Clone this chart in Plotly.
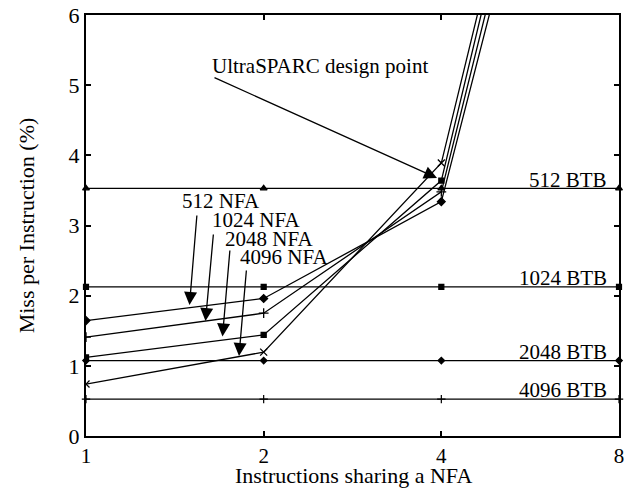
import math
import plotly.graph_objects as go

# ---- data ----
x_vals = [1, 2, 4, 8]
nfa_names = ["512 NFA", "1024 NFA", "2048 NFA", "4096 NFA"]
nfa_512 = [1.645, 1.96, 3.34, 13.2]
nfa_1024 = [1.41, 1.75, 3.48, 13.7]
nfa_2048 = [1.12, 1.44, 3.64, 14.2]
nfa_4096 = [0.74, 1.195, 3.89, 14.3]
btb_names = ["512 BTB", "1024 BTB", "2048 BTB", "4096 BTB"]
btb_512 = [3.53, 3.53, 3.53, 3.53]
btb_1024 = [2.125, 2.125, 2.125, 2.125]
btb_2048 = [1.075, 1.075, 1.075, 1.075]
btb_4096 = [0.525, 0.525, 0.525, 0.525]
x_ticks = [1, 2, 4, 8]
y_ticks = [0, 1, 2, 3, 4, 5, 6]

FONT = "Liberation Serif"
W, H = 624, 492
# plot area in page pixels: x 86..619, y 15..436
L, R, T, B = 86, 5, 15, 56
PW, PH = W - L - R, H - T - B


def px(xp):
    return (xp - L) / PW


def py(yp):
    return (H - B - yp) / PH


fig = go.Figure()

nfa_series = [nfa_512, nfa_1024, nfa_2048, nfa_4096]
nfa_symbols = ["diamond", "cross-thin", "square", "x-thin"]
nfa_sizes = [6, 7, 5, 7]
for name, vals, sym, sz in zip(nfa_names, nfa_series, nfa_symbols, nfa_sizes):
    fig.add_trace(go.Scatter(
        x=x_vals, y=vals, mode="lines+markers", name=name,
        line=dict(color="black", width=1.3),
        marker=dict(symbol=sym, size=sz, color="black",
                    line=dict(color="black", width=1.3)),
        showlegend=False, cliponaxis=True))

btb_series = [btb_512, btb_1024, btb_2048, btb_4096]
btb_symbols = ["triangle-up", "square", "diamond", "cross-thin"]
btb_sizes = [6, 5, 5, 6]
for name, vals, sym, sz in zip(btb_names, btb_series, btb_symbols, btb_sizes):
    fig.add_trace(go.Scatter(
        x=x_vals, y=vals, mode="lines+markers", name=name,
        line=dict(color="black", width=1.3),
        marker=dict(symbol=sym, size=sz, color="black",
                    line=dict(color="black", width=1.2)),
        showlegend=False, cliponaxis=False))

TXT = dict(family=FONT, size=21, color="black")
annotations = []
# BTB labels (right aligned, above lines)
btb_label_y = [180, 278, 352, 390]
for name, yp in zip(btb_names, btb_label_y):
    annotations.append(dict(text=name, xref="paper", yref="paper",
                            x=px(609), y=py(yp), xanchor="right", yanchor="middle",
                            showarrow=False, font=TXT))

# NFA labels
nfa_label_pos = [(221, 201), (256, 220), (269, 238.5), (284, 257)]
for name, (xp, yp) in zip(nfa_names, nfa_label_pos):
    annotations.append(dict(text=name, xref="paper", yref="paper",
                            x=px(xp), y=py(yp), xanchor="center", yanchor="middle",
                            showarrow=False, font=TXT))

# NFA arrows (tail -> tip)
nfa_arrows = [((197, 214), (189.5, 305)), ((213.5, 233), (205.5, 321)),
              ((230, 249), (222.5, 336.5)), ((246.5, 269), (239, 356))]
for (tx, ty), (hx, hy) in nfa_arrows:
    annotations.append(dict(text="", xref="paper", yref="paper",
                            x=px(hx), y=py(hy), ax=tx - hx, ay=ty - hy,
                            showarrow=True, arrowhead=2, arrowsize=2,
                            arrowwidth=1.3, arrowcolor="black", standoff=0))

# UltraSPARC label and arrow
annotations.append(dict(text="UltraSPARC design point", xref="paper", yref="paper",
                        x=px(320), y=py(66), xanchor="center", yanchor="middle",
                        showarrow=False, font=TXT))
annotations.append(dict(text="", xref="paper", yref="paper",
                        x=px(437), y=py(178), ax=213 - 437, ay=77 - 178,
                        showarrow=True, arrowhead=2, arrowsize=2,
                        arrowwidth=1.3, arrowcolor="black", standoff=0))

# x-axis title
annotations.append(dict(text="Instructions sharing a NFA", xref="paper", yref="paper",
                        x=px(353), y=py(475), xanchor="center", yanchor="middle",
                        showarrow=False, font=dict(family=FONT, size=22, color="black")))

axis_common = dict(showline=True, linecolor="black", linewidth=2, mirror="allticks",
                   ticks="inside", ticklen=5, tickwidth=2, tickcolor="black",
                   showgrid=False, zeroline=False, ticklabeloverflow="allow",
                   automargin=False)

fig.update_layout(
    width=W, height=H,
    margin=dict(l=L, r=R, t=T, b=B),
    paper_bgcolor="white", plot_bgcolor="white",
    xaxis=dict(type="log", range=[0, math.log10(8)], tickvals=x_ticks,
               ticktext=[str(v) for v in x_ticks],
               tickfont=dict(family=FONT, size=21, color="black"),
               **axis_common),
    yaxis=dict(range=[0, 6], tickvals=y_ticks,
               tickfont=dict(family=FONT, size=22, color="black"),
               title=dict(text="Miss per Instruction (%)", standoff=28,
                          font=dict(family=FONT, size=22, color="black")),
               **axis_common),
    annotations=annotations,
    showlegend=False,
)

fig.write_html("out.html", config={"displayModeBar": False},
               post_script="document.body.style.margin='0';")
